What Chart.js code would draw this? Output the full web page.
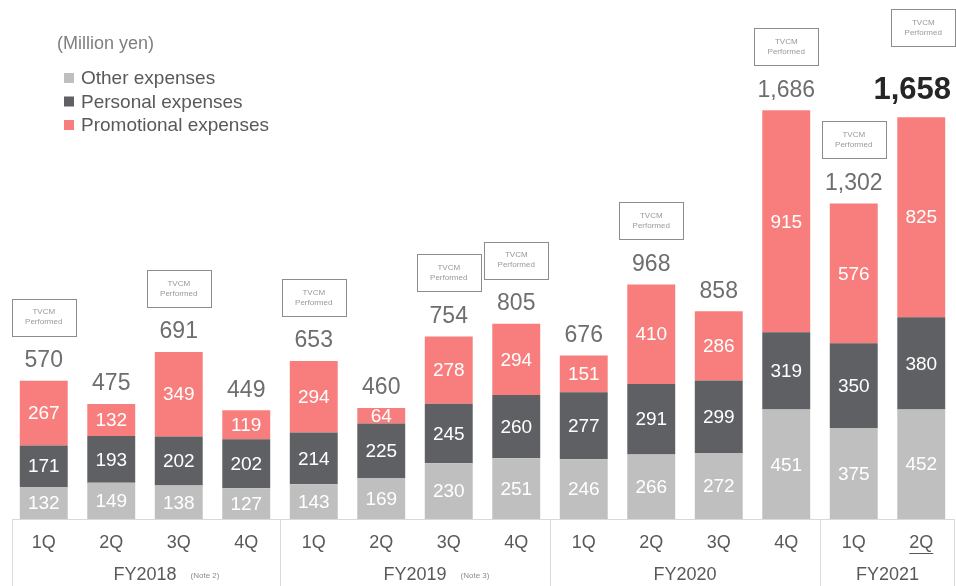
<!DOCTYPE html>
<html>
<head>
<meta charset="utf-8">
<script src="https://cdn.jsdelivr.net/npm/chart.js@4.4.1/dist/chart.umd.min.js"></script>
<style>
html, body { margin: 0; padding: 0; background: #fff; }
#wrap { width: 956px; height: 586px; }
</style>
</head>
<body>
<div id="wrap"><canvas id="expChart" width="956" height="586"></canvas></div>
<script>
// quarterly expenses (million yen)
const quarters = ['1Q','2Q','3Q','4Q','1Q','2Q','3Q','4Q','1Q','2Q','3Q','4Q','1Q','2Q'];
const fiscalYears = ['FY2018','FY2019','FY2020','FY2021'];
const yearSpans = [4, 4, 4, 2];
const yearNotes = ['(Note 2)', '(Note 3)', '', ''];
const otherExp    = [132,149,138,127,143,169,230,251,246,266,272,451,375,452];
const personalExp = [171,193,202,202,214,225,245,260,277,291,299,319,350,380];
const promoExp    = [267,132,349,119,294, 64,278,294,151,410,286,915,576,825];
const totals      = [570,475,691,449,653,460,754,805,676,968,858,1686,1302,1658];
const tvcm = [1,0,1,0,1,0,1,1,0,1,0,1,1,1];

const FONT = '"Liberation Sans", Arial, sans-serif';
const lastIdx = quarters.length - 1;

const overlay = {
  id: 'overlay',
  afterDatasetsDraw(chart) {
    const ctx = chart.ctx;
    ctx.save();
    ctx.textAlign = 'center';
    ctx.textBaseline = 'middle';
    // segment values
    chart.data.datasets.forEach((ds, di) => {
      const meta = chart.getDatasetMeta(di);
      meta.data.forEach((bar, i) => {
        ctx.fillStyle = '#ffffff';
        ctx.font = '19px ' + FONT;
        ctx.fillText(ds.data[i], bar.x, (bar.y + bar.base) / 2 + 1);
      });
    });
    // totals + TVCM boxes
    const topMeta = chart.getDatasetMeta(2);
    topMeta.data.forEach((bar, i) => {
      const t = totals[i].toLocaleString('en-US');
      let labelY, boxBottom, labelX = bar.x;
      if (i === lastIdx) {
        ctx.font = 'bold 31px ' + FONT;
        ctx.fillStyle = '#262626';
        labelY = bar.y - 27;
        boxBottom = bar.y - 71;
        labelX = bar.x - 9;
      } else {
        ctx.font = '23px ' + FONT;
        ctx.fillStyle = '#6e6e6e';
        labelY = bar.y - 20;
        boxBottom = bar.y - 45;
      }
      ctx.fillText(t, labelX, labelY);
      if (tvcm[i]) {
        const w = 64, h = 37;
        const bx = i === lastIdx ? bar.x + 2 : bar.x;
        ctx.strokeStyle = '#8c8c8c';
        ctx.lineWidth = 1;
        ctx.strokeRect(Math.round(bx - w / 2) + 0.5, Math.round(boxBottom - h) + 0.5, w, h);
        ctx.fillStyle = '#999999';
        ctx.font = '8px ' + FONT;
        ctx.fillText('TVCM', bx, boxBottom - h / 2 - 5);
        ctx.fillText('Performed', bx, boxBottom - h / 2 + 5);
      }
    });
    ctx.restore();
  },
  afterDraw(chart) {
    const ctx = chart.ctx;
    const area = chart.chartArea;
    const x = chart.scales.x;
    ctx.save();
    // unit + legend
    ctx.textBaseline = 'middle';
    ctx.textAlign = 'left';
    ctx.font = '18px ' + FONT;
    ctx.fillStyle = '#7f7f7f';
    ctx.fillText('(Million yen)', 57, 44);
    chart.data.datasets.forEach((ds, di) => {
      const y = 78 + di * 23.5;
      ctx.fillStyle = ds.backgroundColor;
      ctx.fillRect(64, y - 5, 10, 10);
      ctx.fillStyle = '#595959';
      ctx.font = '19px ' + FONT;
      ctx.fillText(ds.label, 81, y + 1);
    });
    // category box lines
    const step = x.getPixelForValue(1) - x.getPixelForValue(0);
    ctx.strokeStyle = '#d9d9d9';
    ctx.lineWidth = 1;
    ctx.beginPath();
    ctx.moveTo(area.left + 2, area.bottom + 0.5);
    ctx.lineTo(area.right, area.bottom + 0.5);
    ctx.moveTo(area.left + 2.5, area.bottom);
    ctx.lineTo(area.left + 2.5, chart.height);
    ctx.moveTo(area.right - 0.5, area.bottom);
    ctx.lineTo(area.right - 0.5, chart.height);
    let start = 0;
    yearSpans.forEach((n, k) => {
      const left = x.getPixelForValue(start) - step / 2;
      if (k > 0) {
        ctx.moveTo(Math.round(left) + 0.5, area.bottom);
        ctx.lineTo(Math.round(left) + 0.5, chart.height);
      }
      start += n;
    });
    ctx.stroke();
    // fiscal year labels
    start = 0;
    ctx.textAlign = 'center';
    yearSpans.forEach((n, k) => {
      const cx = (x.getPixelForValue(start) + x.getPixelForValue(start + n - 1)) / 2;
      ctx.font = '18px ' + FONT;
      ctx.fillStyle = '#595959';
      ctx.fillText(fiscalYears[k], cx, 575);
      if (yearNotes[k]) {
        const w = ctx.measureText(fiscalYears[k]).width;
        ctx.font = '8px ' + FONT;
        ctx.fillStyle = '#8c8c8c';
        ctx.textAlign = 'left';
        ctx.fillText(yearNotes[k], cx + w / 2 + 14, 576);
        ctx.textAlign = 'center';
      }
      start += n;
    });
    // underline latest quarter
    const lx = x.getPixelForValue(lastIdx);
    ctx.font = '18px ' + FONT;
    const uw = ctx.measureText(quarters[lastIdx]).width;
    ctx.strokeStyle = '#595959';
    ctx.beginPath();
    ctx.moveTo(lx - uw / 2, 553.5);
    ctx.lineTo(lx + uw / 2, 553.5);
    ctx.stroke();
    ctx.restore();
  }
};

new Chart(document.getElementById('expChart'), {
  type: 'bar',
  data: {
    labels: quarters,
    datasets: [
      { label: 'Other expenses', data: otherExp, backgroundColor: '#bfbfbf' },
      { label: 'Personal expenses', data: personalExp, backgroundColor: '#5f6064' },
      { label: 'Promotional expenses', data: promoExp, backgroundColor: '#f87e7e' }
    ]
  },
  options: {
    responsive: false,
    animation: false,
    devicePixelRatio: 1,
    layout: { padding: { left: 10, right: 1, top: 0, bottom: 0 } },
    datasets: { bar: { barPercentage: 0.71, categoryPercentage: 1, borderWidth: 0 } },
    plugins: { legend: { display: false }, tooltip: { enabled: false } },
    scales: {
      x: {
        stacked: true,
        grid: { display: false, drawTicks: false },
        border: { display: false },
        ticks: { color: '#595959', font: { family: FONT, size: 18 }, padding: 13, maxRotation: 0, autoSkip: false },
        afterFit(scale) { scale.height = 67; }
      },
      y: {
        stacked: true,
        display: false,
        min: 0,
        max: 2140
      }
    }
  },
  plugins: [overlay]
});
</script>
</body>
</html>
